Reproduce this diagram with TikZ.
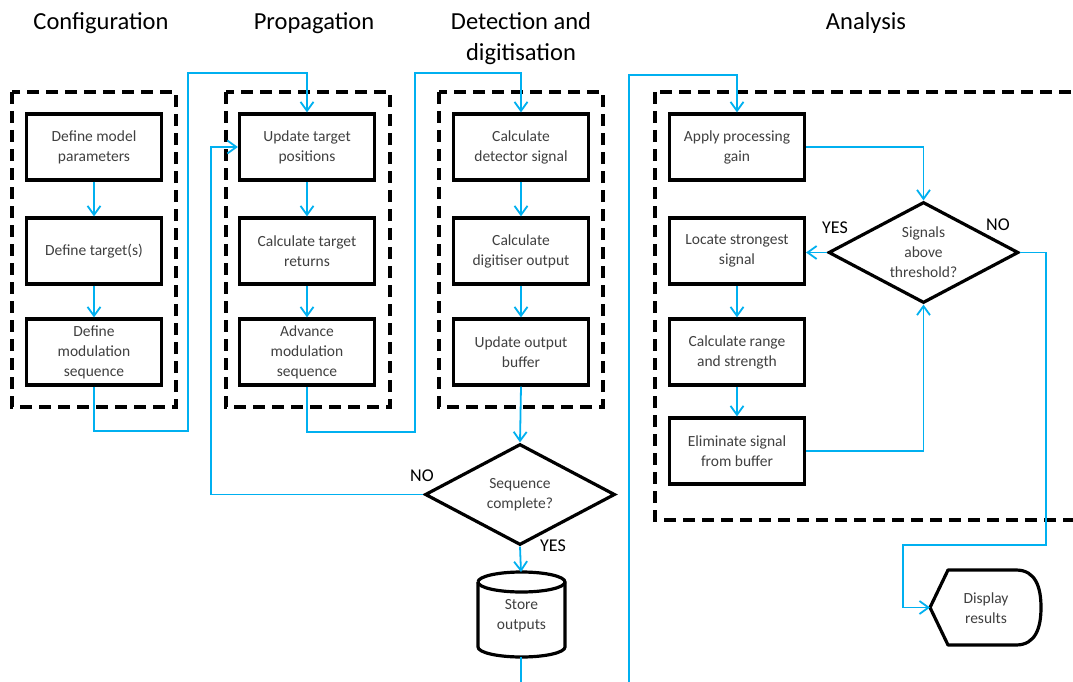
\documentclass[tikz,border=0pt]{standalone}
\usepackage{fontspec}
\setmainfont{Carlito}
\usetikzlibrary{arrows.meta,shapes.geometric}
\definecolor{flow}{RGB}{0,176,240}
\definecolor{txtgray}{RGB}{64,64,64}
\begin{document}
\begin{tikzpicture}[x=1pt,y=-1pt,
  proc/.style={draw=black, line width=3.2pt, minimum width=135pt, minimum height=66pt,
    inner sep=0pt, align=center, font=\fontsize{15.5}{20}\selectfont, text=txtgray},
  decision/.style={draw=black, line width=3.2pt, shape=diamond, minimum width=190pt,
    minimum height=101pt, inner sep=0pt},
  inner/.style={align=center, font=\fontsize{15.5}{20}\selectfont, text=txtgray},
  group/.style={draw=black, line width=3.5pt, dash pattern=on 12pt off 7pt},
  heading/.style={align=center, font=\fontsize{24.5}{31}\selectfont, text=black},
  lbl/.style={font=\fontsize{18}{20}\selectfont, text=black, inner sep=0pt},
  conn/.style={draw=flow, line width=1.8pt, -{Straight Barb[length=9pt,width=13pt,line width=1.8pt]}},
  plain/.style={draw=flow, line width=1.8pt},
  shapeline/.style={draw=black, line width=3.2pt, line join=round}
]
\clip (0,0) rectangle (1073,682);
\fill[white] (0,0) rectangle (1073,682);

% headings
\node[heading] (t1) at (101,23) {Configuration};
\node[heading] (t2) at (314,23) {Propagation};
\node[heading] (t3) at (521,38.5) {Detection and\\digitisation};
\node[heading] (t4) at (866,23) {Analysis};

% dashed groups
\draw[group] (12,92) rectangle (176,407);
\draw[group] (226,92) rectangle (390,407);
\draw[group] (439,92) rectangle (603,407);
\draw[group] (655,92) rectangle (1100,520);

% process boxes
\node[proc] (c1) at (94,147) {Define model\\parameters};
\node[proc] (c2) at (94,251) {Define target(s)};
\node[proc] (c3) at (94,352) {Define\\modulation\\sequence};
\node[proc] (p1) at (307,147) {Update target\\positions};
\node[proc] (p2) at (307,251) {Calculate target\\returns};
\node[proc] (p3) at (307,352) {Advance\\modulation\\sequence};
\node[proc] (d1) at (521,147) {Calculate\\detector signal};
\node[proc] (d2) at (521,251) {Calculate\\digitiser output};
\node[proc] (d3) at (521,352) {Update output\\buffer};
\node[proc] (a1) at (737,147) {Apply processing\\gain};
\node[proc] (a2) at (737,251) {Locate strongest\\signal};
\node[proc] (a3) at (737,352) {Calculate range\\and strength};
\node[proc] (a4) at (737,451) {Eliminate signal\\from buffer};

% decisions
\node[decision] (seq) at (520,494.5) {};
\node[inner] (seqt) at (seq) {Sequence\\complete?};
\node[decision] (sig) at (923.5,252.5) {};
\node[inner] (sigt) at (sig) {Signals\\above\\threshold?};

% store (cylinder)
\node[inner, minimum width=87pt, minimum height=85pt] (st) at (521.5,616) {Store\\outputs};
\draw[shapeline] (478,582) -- (478,647)
  arc[start angle=180, end angle=360, x radius=43.5pt, y radius=10pt]
  -- (565,582)
  arc[start angle=0, end angle=180, x radius=43.5pt, y radius=10pt];
\draw[shapeline] (478,582) arc[start angle=180, end angle=360, x radius=43.5pt, y radius=10pt];

% display
\node[inner] (disp) at (986,608) {Display\\results};
\coordinate (dispin) at (930,607.5);
\draw[shapeline] (dispin) -- (948,570) -- (1016,570)
  .. controls (1036,570) and (1041,588) .. (1041,607.5)
  .. controls (1041,627) and (1036,645) .. (1016,645)
  -- (948,645) -- cycle;

% labels
\node[lbl] (lno1) at (422,476) {NO};
\node[lbl] (lyes1) at (553,546) {YES};
\node[lbl] (lyes2) at (835,228) {YES};
\node[lbl] (lno2) at (998,225) {NO};

% connectors
\draw[conn] (c1) -- (c2);
\draw[conn] (c2) -- (c3);
\draw[conn] (p1) -- (p2);
\draw[conn] (p2) -- (p3);
\draw[conn] (d1) -- (d2);
\draw[conn] (d2) -- (d3);
\draw[conn] (a2) -- (a3);
\draw[conn] (a3) -- (a4);

\draw[conn] (c3.south) |- (188,431) -- (188,73) -| (p1.north);
\draw[conn] (p3.south) |- (415,432) -- (415,73) -| (d1.north);
\draw[conn] (d3.south) -- (seq.north);
\draw[conn] (seq.west) -| (211,147) -- (p1.west);
\draw[conn] (seq.south) -- (521,572);
\coordinate (end1) at (521,690);
\draw[plain] (521,657) -- (end1);
\coordinate (start2) at (629,690);
\draw[conn] (start2) -- (629,75) -| (a1.north);
\draw[conn] (a1.east) -| (sig.north);
\draw[conn] (sig.west) -- (sig.west -| a2.east);
\draw[conn] (a4.east) -| (sig.south);
\draw[conn] (sig.east) -| (1046,545) -| (903,607.5) -- (dispin);
\end{tikzpicture}
\end{document}
